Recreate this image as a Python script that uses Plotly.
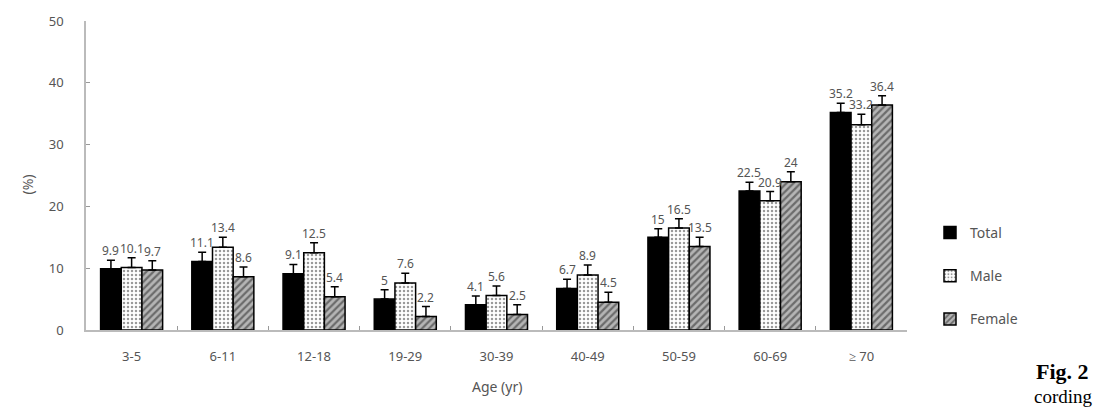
import plotly.graph_objects as go

categories = ["3-5", "6-11", "12-18", "19-29", "30-39", "40-49", "50-59", "60-69", "≥ 70"]
total = [9.9, 11.1, 9.1, 5.0, 4.1, 6.7, 15.0, 22.5, 35.2]
male = [10.1, 13.4, 12.5, 7.6, 5.6, 8.9, 16.5, 20.9, 33.2]
female = [9.7, 8.6, 5.4, 2.2, 2.5, 4.5, 13.5, 24.0, 36.4]
total_err = [1.4, 1.5, 1.5, 1.5, 1.4, 1.5, 1.4, 1.4, 1.5]
male_err = [1.6, 1.6, 1.6, 1.6, 1.5, 1.6, 1.5, 1.5, 1.7]
female_err = [1.5, 1.6, 1.6, 1.6, 1.6, 1.6, 1.5, 1.6, 1.5]
series_names = ["Total", "Male", "Female"]

FONT = "Noto Sans"
TXT = "#555555"

L, R, T, B = 86, 188, 21, 78
W, H = 1095, 408
plot_w = W - L - R
plot_h = H - T - B
bargap = 0.32
bar_px = plot_w / len(categories) * (1 - bargap) / 3

fig = go.Figure()
styles = [
    dict(color="black", pattern=None),
    dict(color="white", pattern=dict(shape=".", fgcolor="#333333", bgcolor="white", size=4, solidity=0.3)),
    dict(color="#aaaaaa", pattern=dict(shape="/", fgcolor="#222222", bgcolor="#b5b5b5", size=5, solidity=0.45)),
]
data = [(total, total_err), (male, male_err), (female, female_err)]
for i, (name, (vals, errs), st) in enumerate(zip(series_names, data, styles)):
    marker = dict(color=st["color"], line=dict(color="black", width=1.5))
    if st["pattern"]:
        marker["pattern"] = st["pattern"]
    fig.add_trace(go.Bar(
        name=name, x=categories, y=vals, marker=marker,
        legendgroup=name,
        error_y=dict(type="data", array=errs, arrayminus=[0] * len(errs), symmetric=False,
                     color="black", thickness=1.5, width=4),
    ))
    for c, v, e in zip(categories, vals, errs):
        fig.add_annotation(x=c, y=v + e, text=f"{v:g}", showarrow=False, yanchor="bottom",
                           xshift=(i - 1) * bar_px, yshift=-1,
                           font=dict(family=FONT, size=12, color=TXT))


def py(pix):
    return (H - B - pix) / plot_h


def px(pix):
    return (pix - L) / plot_w


fig.add_annotation(xref="paper", yref="paper", x=px(15), y=py(185),
                   text="(%)", textangle=-90, showarrow=False,
                   font=dict(family=FONT, size=14, color=TXT))
fig.add_annotation(xref="paper", yref="paper", x=0.5, y=py(398),
                   text="Age (yr)", showarrow=False,
                   font=dict(family=FONT, size=14, color=TXT))
fig.add_annotation(xref="paper", yref="paper", x=px(1034), y=py(357),
                   xanchor="left", yanchor="top", text="<b>Fig. 2</b>", showarrow=False,
                   font=dict(family="Liberation Serif", size=22, color="black"))
fig.add_annotation(xref="paper", yref="paper", x=px(1032), y=py(384),
                   xanchor="left", yanchor="top", text="cording", showarrow=False,
                   font=dict(family="Liberation Serif", size=19, color="black"))

fig.update_layout(
    width=W, height=H, margin=dict(l=L, r=R, t=T, b=B),
    paper_bgcolor="white", plot_bgcolor="white",
    barmode="group", bargap=bargap, bargroupgap=0,
    font=dict(family=FONT, size=13, color=TXT),
    showlegend=True,
    legend=dict(x=px(930), y=py(217), xanchor="left", yanchor="top",
                tracegroupgap=22, traceorder="grouped",
                font=dict(family=FONT, size=14, color=TXT), bgcolor="rgba(0,0,0,0)"),
    xaxis=dict(showline=True, linecolor="#bbbbbb", linewidth=1.5, ticks="inside", ticklen=4,
               tickcolor="#999999", tickson="boundaries", showgrid=False,
               ticklabelstandoff=14, tickfont=dict(family=FONT, size=13, color=TXT)),
    yaxis=dict(range=[0, 50], tickvals=[0, 10, 20, 30, 40, 50], showline=True, linecolor="#bbbbbb",
               linewidth=1.5, ticks="inside", ticklen=4, tickcolor="#999999", showgrid=False,
               zeroline=False, ticklabelstandoff=18, tickfont=dict(family=FONT, size=13, color=TXT)),
)

fig.write_html("out.html")
